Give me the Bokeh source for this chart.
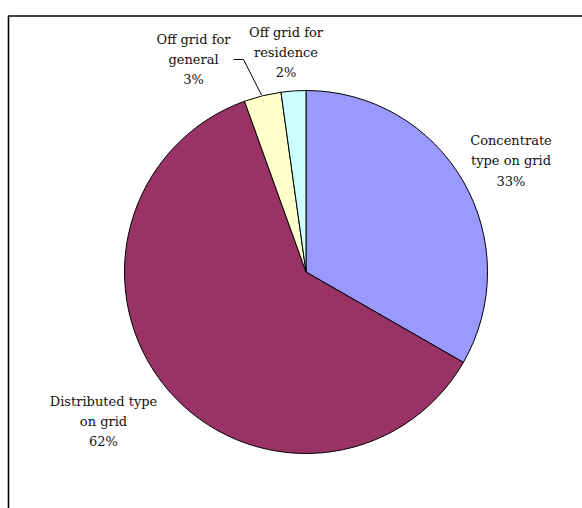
import math
from bokeh.plotting import figure
from bokeh.models import ColumnDataSource, Range1d
from bokeh.embed import file_html
from bokeh.resources import INLINE
from bokeh.core.properties import value

# ---- data ----
categories = ["Concentrate type on grid", "Distributed type on grid",
              "Off grid for general", "Off grid for residence"]
label_lines = [["Concentrate", "type on grid"], ["Distributed type", "on grid"],
               ["Off grid for", "general"], ["Off grid for", "residence"]]
shares = [33.3, 61.2, 3.3, 2.2]
pct_labels = ["33%", "62%", "3%", "2%"]
colors = ["#9999FF", "#993366", "#FFFFCC", "#CCFFFF"]

W, H = 582, 508
p = figure(width=W, height=H, output_backend="svg", toolbar_location=None,
           x_range=Range1d(0, W), y_range=Range1d(0, H), min_border=0)
p.axis.visible = False
p.grid.visible = False
p.outline_line_color = None
p.background_fill_color = "white"
p.border_fill_color = "white"

def Y(y):  # pixel-from-top to data y
    return H - y

cx, cy, r = 305.5, Y(271.5), 181.5
total = sum(shares)
starts, ends = [], []
cum = 0.0
for s in shares:
    starts.append(math.pi / 2 - 2 * math.pi * cum / total)
    cum += s
    ends.append(math.pi / 2 - 2 * math.pi * cum / total)

src = ColumnDataSource(dict(start=starts, end=ends, color=colors, cat=categories))
p.wedge(x=cx, y=cy, radius=r, start_angle="start", end_angle="end",
        direction="clock", fill_color="color", line_color="black",
        line_width=1, source=src)

# frame border (extends beyond window on right and bottom)
p.line(x=[8, 8, W + 20], y=[Y(H + 20), Y(15.5), Y(15.5)], line_color="black",
       line_width=1.6)

# labels
anchors = [(510.5, 140), (103, 400.5), (193, 38.5), (285.5, 31.5)]
line_h = 20.3
tx, ty, tt = [], [], []
for (ax, ay), lines, pct in zip(anchors, label_lines, pct_labels):
    for i, t in enumerate(lines + [pct]):
        tx.append(ax)
        ty.append(Y(ay + i * line_h))
        tt.append(t)
p.text(x=tx, y=ty, text=tt, text_align="center", text_baseline="middle",
       text_font=value("DejaVu Serif"), text_font_size="13px",
       text_color="#111111")

# leader line for "Off grid for general"
p.line(x=[233, 243, 261], y=[Y(59), Y(59), Y(94.5)], line_color="black",
       line_width=1)

open("out.html", "w").write(file_html(p, INLINE))
